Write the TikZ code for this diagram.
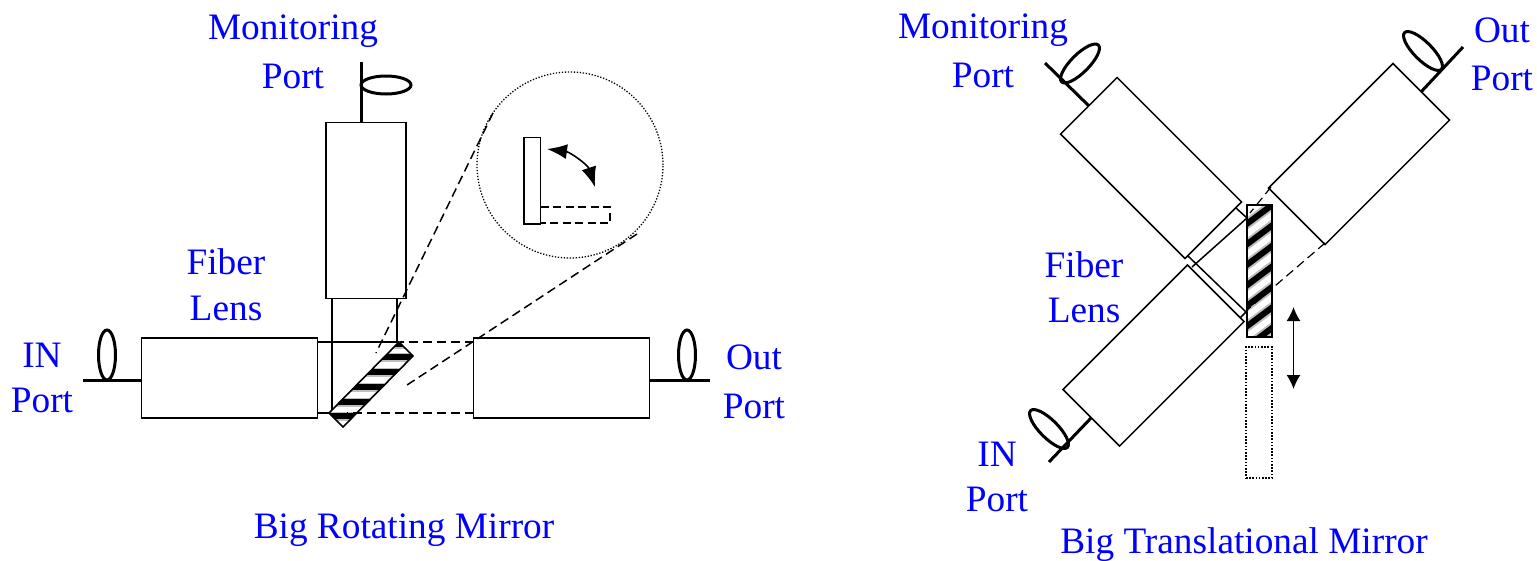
\documentclass[tikz,border=0pt]{standalone}
\usepackage{fontspec}
\setmainfont{Liberation Serif}
\usetikzlibrary{arrows.meta, shapes.geometric}

\tikzset{
  lens/.style={draw, line width=1.5pt, fill=white, inner sep=0pt, outer sep=0pt, minimum width=176pt, minimum height=80pt},
  lbl/.style={text=blue, inner sep=0pt, font=\fontsize{37.3}{37.3}\selectfont},
  fiber/.style={line width=3pt},
  coil/.style={draw, ellipse, line width=3pt, inner sep=0pt, outer sep=0pt, minimum width=52pt, minimum height=18pt},
  tube/.style={line width=1.5pt},
  beam/.style={line width=1.5pt, dash pattern=on 9pt off 5pt},
}

\begin{document}
\begin{tikzpicture}[x=1pt, y=-1pt, >={Latex[length=20pt,width=15pt]}]

\useasboundingbox (0, 0) rectangle (1537, 560);

%left: rotating mirror
\node[lbl] (monl) at (293, 31) {Monitoring};
\node[lbl] (monlp) at (293, 76) {Port};
\node[lbl] (fibl) at (226, 262) {Fiber};
\node[lbl] (lensl) at (226, 308) {Lens};
\node[lbl] (inl) at (42, 355) {IN};
\node[lbl] (inlp) at (42, 400) {Port};
\node[lbl] (outl) at (754, 357) {Out};
\node[lbl] (outlp) at (754, 406) {Port};
\node[lbl] (capl) at (404, 530) {Big Rotating Mirror};

\node[lens] (lensina) at (229.5, 378) {};
\node[lens] (lensouta) at (561.5, 378) {};
\node[lens, rotate=90] (lensmona) at (366, 210.5) {};

\coordinate (inenda) at (83, 380);
\coordinate (outenda) at (710, 380);
\coordinate (monenda) at (361, 62);
\draw[fiber] (inenda) -- (inenda -| lensina.west);
\draw[fiber] (outenda) -- (outenda -| lensouta.east);
\draw[fiber] (monenda) -- (monenda |- lensmona.east);
\node[coil, rotate=90, minimum width=50pt, minimum height=17pt] (coilin) at (107, 355) {};
\node[coil, rotate=90, minimum width=50pt, minimum height=17pt] (coilout) at (687, 355) {};
\node[coil, minimum width=50pt, minimum height=18pt] (coilmon) at (386, 85) {};

\draw[tube] (332, 298) -- (332, 412);
\draw[tube] (397, 298) -- (397, 342);
\draw[tube] (317, 342) -- (399, 342);
\draw[tube] (317, 413) -- (332, 413);

%the mirror, stripes clipped to it
\begin{scope}
\clip (399, 342) -- (413, 356) -- (343, 427) -- (329, 413) -- cycle;
\fill[white] (320, 335) rectangle (420, 430);
\foreach \y in {344, 357, 372, 387, 402, 416}
  {\fill[gray!50] (320, \y-4) rectangle (420, \y+4.5);
   \fill[black] (320, \y-3) rectangle (420, \y+2.5);}
\end{scope}
\draw[line width=1.6pt] (399, 342) -- (413, 356) -- (343, 427) -- (329, 413) -- cycle;

\draw[beam] (474, 342) -- (400, 342);
\draw[beam] (474, 413) -- (347, 413);
\draw[beam] (493, 113) -- (376, 353);
\draw[beam] (637, 234) -- (407, 385);

%zoomed circle
\node[draw, circle, line width=1.3pt, dash pattern=on 1.3pt off 1.7pt, minimum size=186pt, inner sep=0pt] (zoomc) at (570, 165) {};
\node[draw, line width=1.5pt, inner sep=0pt, minimum width=16.5pt, minimum height=86.5pt] (mirrorup) at (532.3, 180.5) {};
\draw[line width=1.5pt, dash pattern=on 8pt off 4.5pt] (540.5, 207) -- (610, 207) -- (610, 223) -- (540.5, 223);
\coordinate (swinga) at (547, 149);
\coordinate (swingb) at (595, 187);
\draw[<->, line width=1.6pt] (swinga) .. controls (570, 152) and (588, 165) .. (swingb);

%right: translational mirror
\node[lbl] (monr) at (983, 30) {Monitoring};
\node[lbl] (monrp) at (983, 75) {Port};
\node[lbl] (outr) at (1502, 30) {Out};
\node[lbl] (outrp) at (1502, 78) {Port};
\node[lbl] (fibr) at (1084, 265) {Fiber};
\node[lbl] (lensr) at (1084, 310) {Lens};
\node[lbl] (inr) at (997, 454) {IN};
\node[lbl] (inrp) at (997, 499) {Port};
\node[lbl] (capr) at (1244, 545) {Big Translational Mirror};

\node[lens, rotate=-45] (lensmonb) at (1151, 168) {};
\node[lens, rotate=45] (lensinb) at (1153.5, 355.5) {};
\node[lens, rotate=45] (lensoutb) at (1359, 154) {};

\coordinate (monendb) at (1045, 63);
\coordinate (inendb) at (1049, 462);
\coordinate (outendb) at (1463, 47);
\draw[fiber] (monendb) -- (lensmonb.west);
\draw[fiber] (inendb) -- (lensinb.west);
\draw[fiber] (outendb) -- (lensoutb.east);
\node[coil, rotate=45] (coilmonb) at (1080, 63.5) {};
\node[coil, rotate=-45] (coilinb) at (1049, 429) {};
\node[coil, rotate=-45] (coiloutb) at (1423, 51) {};

\draw[tube] (1236, 208) -- (1247, 218) -- (1192, 267);
\draw[tube] (1188, 256) -- (1246, 312) -- (1240, 318);

\begin{scope}
\clip (1247, 205) rectangle (1272, 337);
\fill[white] (1247, 205) rectangle (1272, 337);
\foreach \y in {0,...,7}
  {\draw[line width=10pt, gray!50] (1240, 229+\y*20.5) -- (1280, 199+\y*20.5);
   \draw[line width=6pt, black] (1240, 229+\y*20.5) -- (1280, 199+\y*20.5);}
\end{scope}
\draw[line width=1.6pt] (1247, 205) rectangle (1272, 337);

\draw[beam, line width=1.2pt] (1271, 187) -- (1250, 213);
\draw[beam, line width=1.2pt] (1325, 243) -- (1247, 310);

\node[draw, line width=1.5pt, dash pattern=on 1.6pt off 1.6pt, inner sep=0pt, minimum width=26pt, minimum height=131pt] (mirrordown) at (1259, 412.5) {};

\coordinate (slidea) at (1293.5, 307);
\coordinate (slideb) at (1293.5, 389);
\draw[{Latex[length=14pt,width=14pt]}-{Latex[length=14pt,width=14pt]}, line width=1.6pt] (slidea) -- (slideb);

\end{tikzpicture}
\end{document}
